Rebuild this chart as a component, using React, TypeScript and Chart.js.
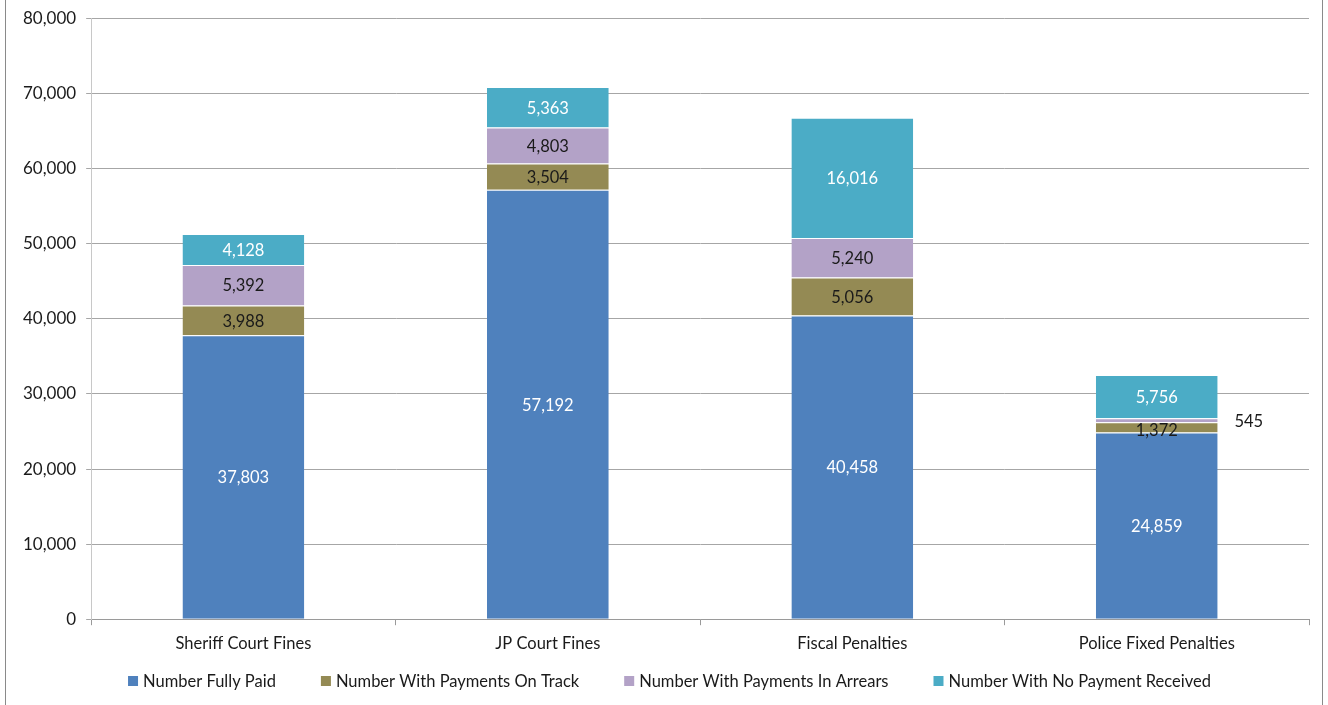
import React, { useEffect, useRef } from "react";
import { Chart, registerables } from "chart.js";

Chart.register(...registerables);

const categories = ["Sheriff Court Fines", "JP Court Fines", "Fiscal Penalties", "Police Fixed Penalties"];
const fullyPaid = [37803, 57192, 40458, 24859];
const onTrack = [3988, 3504, 5056, 1372];
const inArrears = [5392, 4803, 5240, 545];
const noPayment = [4128, 5363, 16016, 5756];
const seriesNames = [
  "Number Fully Paid",
  "Number With Payments On Track",
  "Number With Payments In Arrears",
  "Number With No Payment Received",
];
const seriesColors = ["#4F81BD", "#948A54", "#B3A2C7", "#4BACC6"];
const labelColors = ["#FFFFFF", "#1a1a1a", "#1a1a1a", "#FFFFFF"];
const yTicks = [0, 10000, 20000, 30000, 40000, 50000, 60000, 70000, 80000];

const FONT = "Lato, 'Open Sans', sans-serif";

const labelPlugin = {
  id: "segLabels",
  afterDatasetsDraw(chart: any) {
    const ctx = chart.ctx;
    ctx.save();
    ctx.font = `16.5px ${FONT}`;
    ctx.textAlign = "center";
    ctx.textBaseline = "middle";
    chart.data.datasets.forEach((ds: any, di: number) => {
      const meta = chart.getDatasetMeta(di);
      meta.data.forEach((bar: any, i: number) => {
        const v = ds.data[i];
        const txt = v.toLocaleString("en-US");
        const midY = (bar.y + bar.base) / 2;
        let x = bar.x;
        let y = midY + 1;
        let color = labelColors[di];
        if (Math.abs(bar.base - bar.y) < 8 && di === 2) {
          x = bar.x + 92;
          color = "#1a1a1a";
        }
        if (Math.abs(bar.base - bar.y) < 14 && di === 1) {
          y = midY + 3;
        }
        ctx.fillStyle = color;
        ctx.fillText(txt, x, y);
      });
    });
    ctx.restore();
  },
};

const legendPlugin = {
  id: "customLegend",
  afterDraw(chart: any) {
    const ctx = chart.ctx;
    ctx.save();
    ctx.font = `16.5px ${FONT}`;
    ctx.textBaseline = "middle";
    ctx.textAlign = "left";
    const box = 10;
    const gapBoxText = 5;
    const gapItems = 45;
    const items = chart.data.datasets.map((ds: any) => ({
      label: ds.label,
      color: ds.backgroundColor,
      w: ctx.measureText(ds.label).width,
    }));
    const total =
      items.reduce((s: number, it: any) => s + box + gapBoxText + it.w, 0) + gapItems * (items.length - 1);
    let x = 662.5 - total / 2;
    const y = 681;
    items.forEach((it: any) => {
      ctx.fillStyle = it.color;
      ctx.fillRect(x, y - box / 2, box, box);
      ctx.fillStyle = "#1a1a1a";
      ctx.fillText(it.label, x + box + gapBoxText, y + 1);
      x += box + gapBoxText + it.w + gapItems;
    });
    ctx.restore();
  },
};

export default function App() {
  const ref = useRef<HTMLCanvasElement>(null);
  useEffect(() => {
    const seriesData = [fullyPaid, onTrack, inArrears, noPayment];
    const chart = new Chart(ref.current!, {
      type: "bar",
      data: {
        labels: categories,
        datasets: seriesData.map((d, i) => ({
          label: seriesNames[i],
          data: d,
          backgroundColor: seriesColors[i],
          borderColor: "#FFFFFF",
          borderWidth: { top: 1, bottom: 0, left: 0, right: 0 },
          borderSkipped: false,
          barPercentage: 0.4,
          categoryPercentage: 1.0,
        })),
      },
      options: {
        animation: false,
        responsive: false,
        maintainAspectRatio: false,
        layout: { padding: { left: 6, right: 16, top: 0, bottom: 42 } },
        plugins: {
          legend: { display: false },
          tooltip: { enabled: false },
        },
        scales: {
          x: {
            stacked: true,
            grid: {
              offset: true,
              drawOnChartArea: false,
              drawTicks: true,
              tickLength: 6,
              color: "#9a9a9a",
            },
            border: { color: "#9a9a9a" },
            ticks: { color: "#1a1a1a", font: { family: FONT, size: 16.5 }, padding: 9 },
          },
          y: {
            stacked: true,
            min: 0,
            max: 80000,
            afterBuildTicks: (axis: any) => {
              axis.ticks = yTicks.map((v) => ({ value: v }));
            },
            grid: { color: "#a6a6a6", tickLength: 5 },
            border: { color: "#c8c8c8" },
            ticks: {
              color: "#1a1a1a",
              font: { family: FONT, size: 17, lineHeight: 1.0 },
              padding: 10,
              callback: (v: any) => Number(v).toLocaleString("en-US"),
            },
          },
        },
      },
      plugins: [labelPlugin, legendPlugin],
    });
    return () => chart.destroy();
  }, []);
  return (
    <div style={{ position: "absolute", left: 0, top: 0, width: 1328, height: 705, background: "#fff" }}>
      <div
        style={{
          position: "absolute",
          left: 5,
          top: -2,
          width: 1318,
          height: 720,
          borderLeft: "1.5px solid #8a8a8a",
          borderRight: "1.5px solid #8a8a8a",
          boxSizing: "border-box",
        }}
      />
      <canvas ref={ref} width={1318} height={705} style={{ position: "absolute", left: 7, top: 0 }} />
    </div>
  );
}
